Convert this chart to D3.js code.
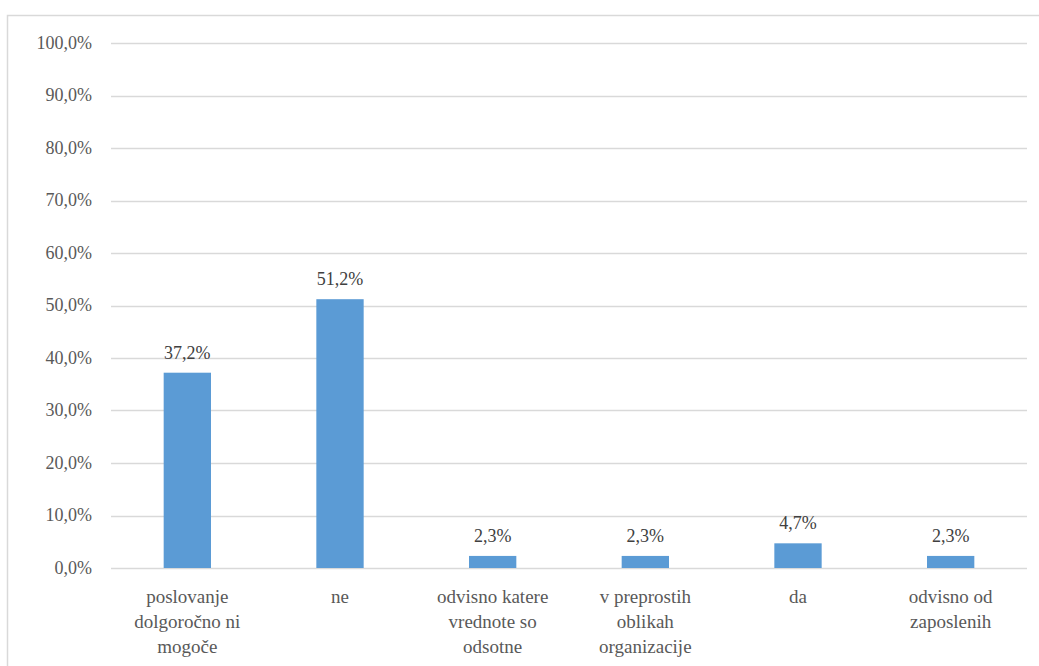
<!DOCTYPE html>
<html>
<head>
<meta charset="utf-8">
<script src="https://cdn.jsdelivr.net/npm/d3@7"></script>
<style>
  html, body { margin: 0; padding: 0; background: #fff; }
  svg { display: block; }
</style>
</head>
<body>
<svg id="chart" width="1039" height="666"></svg>
<script>
// Answer categories (each label split into display lines)
const categories = [
  ["poslovanje", "dolgoročno ni", "mogoče"],
  ["ne"],
  ["odvisno katere", "vrednote so", "odsotne"],
  ["v preprostih", "oblikah", "organizacije"],
  ["da"],
  ["odvisno od", "zaposlenih"]
];
// Share of responses, percent
const values = [37.2, 51.2, 2.3, 2.3, 4.7, 2.3];
// Y axis tick values, percent
const yTicks = [0, 10, 20, 30, 40, 50, 60, 70, 80, 90, 100];

const W = 1039, H = 666;
const serif = "Liberation Serif";
const textColor = "#595959";
const gridColor = "#d9d9d9";
const barColor = "#5b9bd5";

const fmt = v => d3.format(".1f")(v).replace(".", ",") + "%";

const svg = d3.select("#chart");

const margin = { left: 111, right: 12, top: 43, bottom: 98 };
const x = d3.scaleBand()
  .domain(d3.range(categories.length))
  .range([margin.left, W - margin.right])
  .padding(0);
const y = d3.scaleLinear()
  .domain([0, 100])
  .range([H - margin.bottom, margin.top]);

// chart frame
svg.append("rect")
  .attr("x", 7.5).attr("y", 15.5)
  .attr("width", W + 10).attr("height", H)
  .attr("fill", "none").attr("stroke", "#d9d9d9").attr("stroke-width", 1.5);

// gridlines (including the baseline)
svg.selectAll("line.grid")
  .data(yTicks)
  .join("line")
  .attr("class", "grid")
  .attr("x1", margin.left).attr("x2", W - margin.right)
  .attr("y1", d => Math.round(y(d)) + 0.5).attr("y2", d => Math.round(y(d)) + 0.5)
  .attr("stroke", gridColor).attr("stroke-width", 1.5);

// bars
const barW = x.step() * 0.31;
svg.selectAll("rect.bar")
  .data(values)
  .join("rect")
  .attr("class", "bar")
  .attr("x", (d, i) => x(i) + x.bandwidth() / 2 - barW / 2)
  .attr("y", d => y(d))
  .attr("width", barW)
  .attr("height", d => y(0) - y(d))
  .attr("fill", barColor);

// y tick labels, positioned with the y scale
svg.selectAll("text.ytick")
  .data(yTicks)
  .join("text")
  .attr("class", "ytick")
  .attr("x", margin.left - 19)
  .attr("y", d => y(d))
  .attr("dy", "0.32em")
  .attr("text-anchor", "end")
  .attr("font-family", serif).attr("font-size", 18)
  .attr("fill", textColor)
  .text(fmt);

// value labels
svg.selectAll("text.value")
  .data(values)
  .join("text")
  .attr("class", "value")
  .attr("x", (d, i) => x(i) + x.bandwidth() / 2)
  .attr("y", d => y(d) - 14)
  .attr("text-anchor", "middle")
  .attr("font-family", serif).attr("font-size", 18)
  .attr("fill", "#404040")
  .text(fmt);

// category labels, one text element per line
const catLines = categories.flatMap((lines, i) => lines.map((t, k) => ({ t, k, i })));
svg.selectAll("text.cat")
  .data(catLines)
  .join("text")
  .attr("class", "cat")
  .attr("x", d => x(d.i) + x.bandwidth() / 2)
  .attr("y", d => y(0) + 35 + d.k * 25)
  .attr("text-anchor", "middle")
  .attr("font-family", serif).attr("font-size", 19)
  .attr("fill", textColor)
  .text(d => d.t);
</script>
</body>
</html>
